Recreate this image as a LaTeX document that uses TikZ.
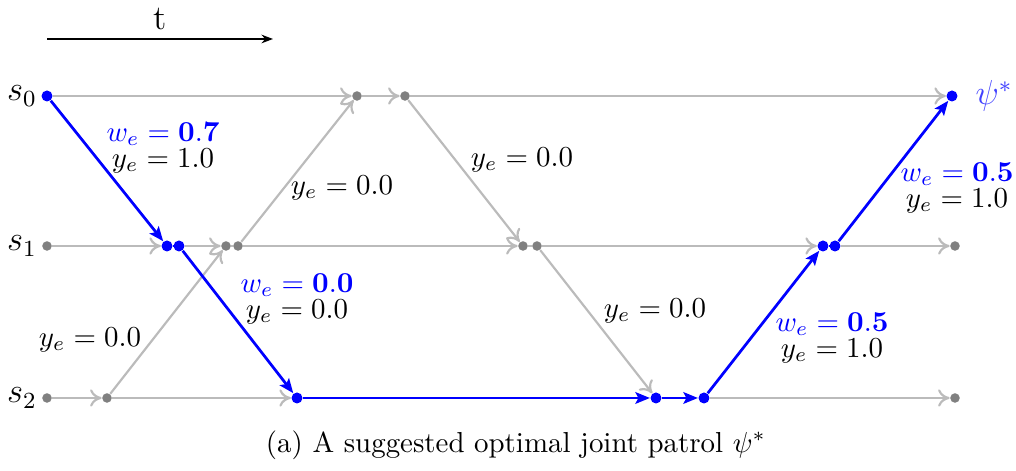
\documentclass[tikz,border=0pt]{standalone}
\usetikzlibrary{arrows.meta}
\definecolor{edgegray}{HTML}{BBBBBB}
\definecolor{dotgray}{HTML}{808080}
\begin{document}
\begin{tikzpicture}[x=0.346pt,y=-0.346pt,
  gdot/.style={circle,fill=dotgray,inner sep=0pt,minimum size=3.3pt},
  bdot/.style={circle,fill=blue,inner sep=0pt,minimum size=3.8pt},
  gedge/.style={draw=edgegray,line width=0.75pt,-{To[length=4pt,width=6pt]}},
  gline/.style={draw=edgegray,line width=0.75pt},
  bedge/.style={draw=blue,line width=0.95pt,-{Stealth[length=5pt,width=4pt,inset=1pt]}},
  bline/.style={draw=blue,line width=0.95pt},
  lab/.style={align=center,inner sep=0pt,font=\normalsize},
  rowlab/.style={font=\large,inner sep=0pt}]
\useasboundingbox (0,0) rectangle (1016,471);
% time arrow
\coordinate (t0) at (47,39);
\coordinate (t1) at (273,39);
\draw[-{Stealth[length=4pt,width=3pt]},line width=0.5pt] (t0) -- (t1);
\node[font=\large] (tl) at (160,19) {t};
% row labels
\node[rowlab] (l0) at (22,96) {$s_0$};
\node[rowlab] (l1) at (22,246) {$s_1$};
\node[rowlab] (l2) at (22,398) {$s_2$};
\node[rowlab,text=blue!75,anchor=west] (psi) at (975,96) {$\psi^*$};
% nodes row 0
\node[bdot] (a0) at (47,96) {};
\node[gdot] (a1) at (357,96) {};
\node[gdot] (a2) at (405,96) {};
\node[bdot] (a3) at (952,96) {};
% row 1
\node[gdot] (b0) at (47,246) {};
\node[bdot] (b1) at (167,246) {};
\node[bdot] (b2) at (179,246) {};
\node[gdot] (b3) at (226,246) {};
\node[gdot] (b4) at (238,246) {};
\node[gdot] (b5) at (523,246) {};
\node[gdot] (b6) at (537,246) {};
\node[bdot] (b7) at (823,246) {};
\node[bdot] (b8) at (835,246) {};
\node[gdot] (b9) at (955,246) {};
% row 2
\node[gdot] (c0) at (47,398) {};
\node[gdot] (c1) at (107,398) {};
\node[bdot] (c2) at (297,398) {};
\node[bdot] (c3) at (656,398) {};
\node[bdot] (c4) at (704,398) {};
\node[gdot] (c5) at (955,398) {};
% gray horizontal edges
\draw[gedge] (a0) -- (a1);
\draw[gedge] (a1) -- (a2);
\draw[gedge] (a2) -- (a3);
\draw[gedge] (b0) -- (b1);
\draw[gedge] (b2) -- (b3);
\draw[gline] (b3) -- (b4);
\draw[gedge] (b4) -- (b5);
\draw[gline] (b5) -- (b6);
\draw[gedge] (b6) -- (b7);
\draw[gedge] (b8) -- (b9);
\draw[gedge] (c0) -- (c1);
\draw[gedge] (c1) -- (c2);
\draw[gedge] (c4) -- (c5);
% gray diagonals
\draw[gedge] (c1) -- (b3);
\draw[gedge] (b4) -- (a1);
\draw[gedge] (a2) -- (b5);
\draw[gedge] (b6) -- (c3);
% blue path
\draw[bedge] (a0) -- (b1);
\draw[bline] (b1) -- (b2);
\draw[bedge] (b2) -- (c2);
\draw[bedge] (c2) -- (c3);
\draw[bedge] (c3) -- (c4);
\draw[bedge] (c4) -- (b7);
\draw[bline] (b7) -- (b8);
\draw[bedge] (b8) -- (a3);
% labels
\node[lab] (e1) at (163,148) {\textcolor{blue}{$w_e = \mathbf{0.7}$}\\[-3pt]$y_e = 1.0$};
\node[lab] (e2) at (90,340) {$y_e = 0.0$};
\node[lab] (e3) at (297,299) {\textcolor{blue}{$w_e = \mathbf{0.0}$}\\[-3pt]$y_e = 0.0$};
\node[lab] (e4) at (342,188) {$y_e = 0.0$};
\node[lab] (e5) at (522,160) {$y_e = 0.0$};
\node[lab] (e6) at (655,311) {$y_e = 0.0$};
\node[lab] (e7) at (832,338) {\textcolor{blue}{$w_e = \mathbf{0.5}$}\\[-3pt]$y_e = 1.0$};
\node[lab] (e8) at (957,188) {\textcolor{blue}{$w_e = \mathbf{0.5}$}\\[-3pt]$y_e = 1.0$};
% caption
\node (cap) at (516,445) {(a) A suggested optimal joint patrol $\psi^*$};
\end{tikzpicture}
\end{document}
